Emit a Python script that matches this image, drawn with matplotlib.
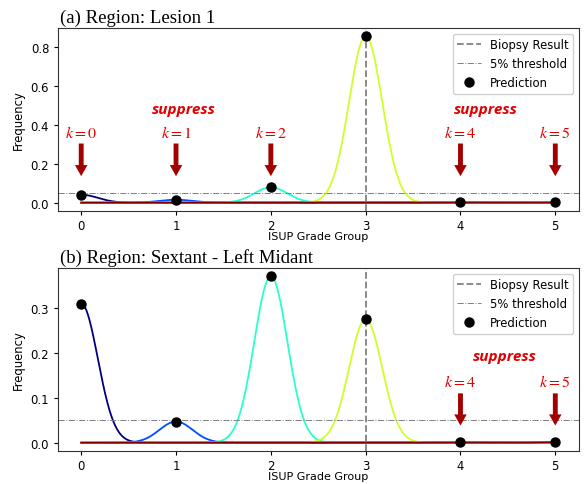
import numpy as np
import matplotlib
matplotlib.use('Agg')
import matplotlib.pyplot as plt

plt.rcParams['mathtext.fontset'] = 'stix'

# ISUP grade groups and predicted frequencies
grades = [0, 1, 2, 3, 4, 5]
pred_lesion = [0.041, 0.015, 0.079, 0.855, 0.002, 0.001]
pred_sextant = [0.309, 0.047, 0.370, 0.274, 0.001, 0.001]
biopsy = 3
threshold = 0.05
sigma = 0.175

titles = ['(a) Region: Lesion 1', '(b) Region: Sextant - Left Midant']
# which grades get a "suppress" arrow in each panel
arrows_lesion = [0, 1, 2, 4, 5]
arrows_sextant = [4, 5]

cmap = plt.get_cmap('jet')
red = '#e00000'
arrow_col = '#a30000'
fs = 8.4

fig = plt.figure(figsize=(5.87, 4.85), dpi=100)
ax1 = fig.add_axes([57.5/587, 1 - 212/485, (579 - 57.5)/587, 183/485])
ax2 = fig.add_axes([57.5/587, 1 - 452/485, (579 - 57.5)/587, 183/485])

x = np.linspace(0, 5, 1000)


def panel(ax, pred, arrows, title, arr_y, txt_y, sup_y, sup_pos):
    for k, p in zip(grades, pred):
        y = p * np.exp(-(x - k)**2 / (2 * sigma**2))
        ax.plot(x, y, color=cmap(k / 5.0), lw=1.3)
    ax.axvline(biopsy, color='gray', ls='--', lw=1.3, label='Biopsy Result')
    ax.axhline(threshold, color='gray', ls='-.', lw=0.7, label='5% threshold')
    ax.plot(grades, pred, 'o', color='black', ms=6.5, label='Prediction', zorder=5)
    ax.set_xticks(grades)
    ax.tick_params(labelsize=fs, length=3, pad=3)
    ax.set_ylabel('Frequency', fontsize=fs)
    ax.set_xlabel('ISUP Grade Group', fontsize=8, labelpad=-1)
    for s in ax.spines.values():
        s.set_color('#333333')
    ax.legend(loc='upper right', fontsize=fs, framealpha=0.9)
    ax.set_title(title, loc='left', fontsize=13.5, family='Liberation Serif', x=0.005, pad=4.5)
    y0, y1 = ax.get_ylim()
    h = y1 - y0
    for k in arrows:
        ax.annotate('', xy=(k, arr_y[0] * h + y0), xytext=(k, arr_y[1] * h + y0),
                    arrowprops=dict(arrowstyle='simple,head_width=0.9,head_length=0.8,tail_width=0.35',
                                    color=arrow_col, lw=0))
        ax.text(k, txt_y * h + y0, '$k=%d$' % k, color=red, fontsize=11.5,
                ha='center', va='center')
    for sx in sup_pos:
        ax.text(sx, sup_y * h + y0, 'suppress', color=red, fontsize=11,
                fontweight='bold', style='italic', family='Open Sans',
                ha='center', va='center')


panel(ax1, pred_lesion, arrows_lesion, titles[0],
      (0.175, 0.384), 0.432, 0.557, [1.08, 4.27])
panel(ax2, pred_sextant, arrows_sextant, titles[1],
      (0.124, 0.33), 0.384, 0.52, [4.47])

fig.savefig('out.png', dpi=100)
